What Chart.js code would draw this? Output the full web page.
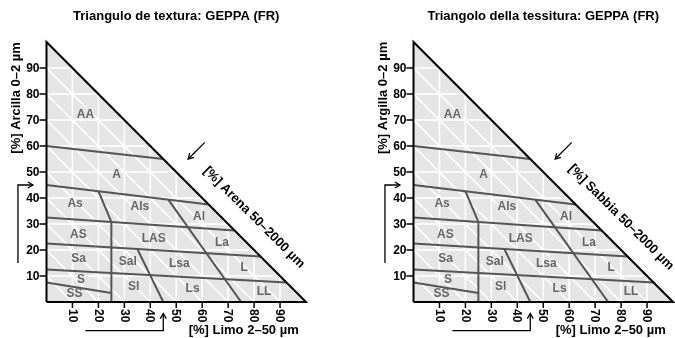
<!DOCTYPE html>
<html>
<head>
<meta charset="utf-8">
<script src="https://cdn.jsdelivr.net/npm/chart.js@4.4.1/dist/chart.umd.min.js"></script>
<style>
html,body{margin:0;padding:0;background:#fff;}
#wrap{position:relative;width:675px;height:338px;}
canvas{position:absolute;left:0;top:0;}
</style>
</head>
<body>
<div id="wrap">
<canvas id="c1" width="675" height="338"></canvas>
<canvas id="c2" width="675" height="338"></canvas>
</div>
<script>
// ---- data ----
const gridValues = [10, 20, 30, 40, 50, 60, 70, 80, 90];
const classNames = ['AA','A','As','Als','Al','AS','LAS','La','Sa','Sal','Lsa','L','S','SS','Sl','Ls','LL'];
const classSilt  = [15, 27, 11, 36, 58.8, 12.3, 41.3, 67.6, 12.4, 31.3, 51.2, 76.2, 13.3, 10.8, 33.6, 56.3, 83.8];
const classClay  = [72, 49, 38, 36.8, 32.9, 26, 24.5, 23, 16.8, 15.4, 14.6, 13.1, 8.6, 3.2, 5.7, 5.0, 4.1];
// class boundaries (silt, clay) start -> end
const bSilt0 = [0, 0, 0, 0, 0, 0, 25, 20, 47, 35];
const bClay0 = [60, 45, 32.5, 22.5, 12.5, 7.5, 0, 42.6, 39.3, 20.4];
const bSilt1 = [45, 62.5, 72.5, 82.5, 92.5, 25, 25, 25, 75, 45];
const bClay1 = [55, 37.5, 27.5, 17.5, 7.5, 3.5, 30.8, 30.8, 0, 0];
const titles = ['Triangulo de textura: GEPPA (FR)', 'Triangolo della tessitura: GEPPA (FR)'];
const clayTitles = ['[%] Arcilla 0\u20132 \u00b5m', '[%] Argilla 0\u20132 \u00b5m'];
const siltTitles = ['[%] Limo 2\u201350 \u00b5m', '[%] Limo 2\u201350 \u00b5m'];
const sandTitles = ['[%] Arena 50\u20132000 \u00b5m', '[%] Sabbia 50\u20132000 \u00b5m'];
// arrows (silt, clay) paths
const clayArrowSilt = [-11, -11, -5.2];
const clayArrowClay = [15, 45, 45];
const siltArrowSilt = [15, 45, 45];
const siltArrowClay = [-11, -11, -4.4];
const sandArrowSilt = [61, 54.6];
const sandArrowClay = [61.4, 55];

const FONT = '"Liberation Sans", Arial, Helvetica, sans-serif';

function seg(x0, y0, x1, y1) { return [{x: x0, y: y0}, {x: x1, y: y1}]; }

function buildDatasets() {
  const ds = [];
  ds.push({data: seg(0, 100, 100, 0), fill: 'origin', backgroundColor: '#e5e5e5',
           borderWidth: 0, borderColor: 'rgba(0,0,0,0)', order: 10});
  gridValues.forEach(v => {
    ds.push({data: seg(v, 0, v, 100 - v), borderColor: '#ffffff', borderWidth: 1.6, order: 5});
    ds.push({data: seg(0, v, 100 - v, v), borderColor: '#ffffff', borderWidth: 1.6, order: 5});
    ds.push({data: seg(0, v, v, 0), borderColor: '#ffffff', borderWidth: 1.6, order: 5});
  });
  bSilt0.forEach((s, i) => {
    ds.push({data: seg(s, bClay0[i], bSilt1[i], bClay1[i]), borderColor: '#555555', borderWidth: 2, order: 2});
  });
  ds.push({data: [{x:0,y:0},{x:100,y:0},{x:0,y:100},{x:0,y:0}], borderColor: '#000000',
           borderWidth: 2, order: 0, clip: false, borderJoinStyle: 'miter'});
  ds.forEach(d => { d.showLine = true; d.pointRadius = 0; d.pointHoverRadius = 0; if (d.fill === undefined) d.fill = false; });
  return ds;
}

function arrowHead(ctx, fx, fy, tx, ty) {
  const a = Math.atan2(ty - fy, tx - fx);
  const L = 6, w = Math.PI / 6;
  ctx.beginPath();
  ctx.moveTo(tx - L * Math.cos(a - w), ty - L * Math.sin(a - w));
  ctx.lineTo(tx, ty);
  ctx.lineTo(tx - L * Math.cos(a + w), ty - L * Math.sin(a + w));
  ctx.stroke();
}

function drawPath(ctx, xs, ys, px, py) {
  ctx.beginPath();
  xs.forEach((s, i) => {
    const X = px(s), Y = py(ys[i]);
    if (i === 0) ctx.moveTo(X, Y); else ctx.lineTo(X, Y);
  });
  ctx.stroke();
  const n = xs.length;
  arrowHead(ctx, px(xs[n-2]), py(ys[n-2]), px(xs[n-1]), py(ys[n-1]));
}

function makeDecor(k) {
  return {
    id: 'decor' + k,
    afterDraw(chart) {
      const ctx = chart.ctx;
      const sx = chart.scales.x, sy = chart.scales.y;
      const px = v => sx.getPixelForValue(v), py = v => sy.getPixelForValue(v);
      ctx.save();
      // class labels
      ctx.fillStyle = '#666666';
      ctx.font = 'bold 12px ' + FONT;
      ctx.textAlign = 'center';
      ctx.textBaseline = 'middle';
      classNames.forEach((n, i) => ctx.fillText(n, px(classSilt[i]), py(classClay[i])));
      // ticks
      ctx.strokeStyle = '#000';
      ctx.lineWidth = 1.5;
      ctx.fillStyle = '#000';
      ctx.font = 'bold 12px ' + FONT;
      const left = px(0), base = py(0);
      gridValues.forEach(v => {
        const Y = py(v);
        ctx.beginPath(); ctx.moveTo(left - 7, Y); ctx.lineTo(left, Y); ctx.stroke();
        ctx.textAlign = 'right'; ctx.textBaseline = 'middle';
        ctx.fillText(String(v), left - 7, Y + 0.5);
        const X = px(v);
        ctx.beginPath(); ctx.moveTo(X, base); ctx.lineTo(X, base + 6); ctx.stroke();
        ctx.save();
        ctx.translate(X, base + 7);
        ctx.rotate(Math.PI / 2);
        ctx.textAlign = 'left'; ctx.textBaseline = 'middle';
        ctx.fillText(String(v), 0, 0.5);
        ctx.restore();
      });
      // title
      ctx.font = 'bold 13px ' + FONT;
      ctx.textAlign = 'center'; ctx.textBaseline = 'middle';
      ctx.fillText(titles[k], (chart.chartArea.left + chart.chartArea.right) / 2, 16);
      // clay title
      ctx.save();
      ctx.translate(px(-11.5), py(78.5));
      ctx.rotate(-Math.PI / 2);
      ctx.fillText(clayTitles[k], 0, 0);
      ctx.restore();
      // silt title
      ctx.fillText(siltTitles[k], px(76), py(-11));
      // sand title
      ctx.save();
      ctx.translate(px(80), py(32.5));
      ctx.rotate(Math.PI / 4);
      ctx.fillText(sandTitles[k], 0, 0);
      ctx.restore();
      // arrows
      ctx.lineWidth = 1.3;
      drawPath(ctx, clayArrowSilt, clayArrowClay, px, py);
      drawPath(ctx, siltArrowSilt, siltArrowClay, px, py);
      drawPath(ctx, sandArrowSilt, sandArrowClay, px, py);
      ctx.restore();
    }
  };
}

function makeChart(id, k, padLeft, padRight) {
  return new Chart(document.getElementById(id), {
    type: 'scatter',
    data: {datasets: buildDatasets()},
    options: {
      responsive: false,
      animation: false,
      devicePixelRatio: 1,
      layout: {padding: {left: padLeft, right: padRight, top: 42, bottom: 36}},
      plugins: {legend: {display: false}, tooltip: {enabled: false}, title: {display: false}},
      events: [],
      scales: {
        x: {type: 'linear', min: 0, max: 100, display: false},
        y: {type: 'linear', min: 0, max: 100, display: false}
      }
    },
    plugins: [makeDecor(k)]
  });
}

makeChart('c1', 0, 46.5, 675 - 306);
makeChart('c2', 1, 413.5, 2);
</script>
</body>
</html>
